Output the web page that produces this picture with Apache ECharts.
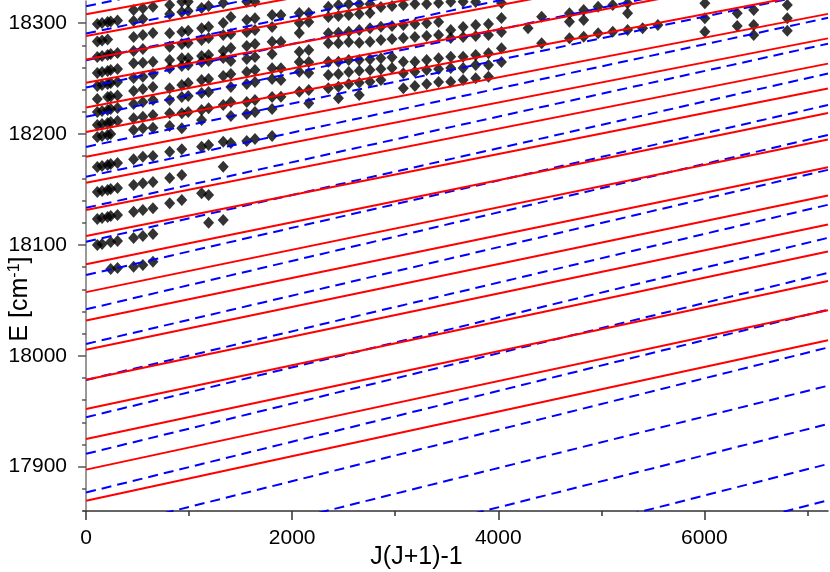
<!DOCTYPE html>
<html>
<head>
<meta charset="utf-8">
<script src="https://cdn.jsdelivr.net/npm/echarts@6/dist/echarts.min.js"></script>
<style>
html, body { margin: 0; padding: 0; background: #fff; }
#chart { width: 830px; height: 572px; }
</style>
</head>
<body>
<div id="chart"></div>
<script>
// calculated levels (red, solid): E at J(J+1)-1 = 0 and at 7200
const redStart = [17869.3, 17897.3, 17924.9, 17952.0, 17978.3, 18005.4, 18031.8, 18057.4, 18082.6, 18108.1,
                  18131.5, 18156.1, 18179.5, 18201.8, 18224.0, 18246.2, 18267.3, 18288.5, 18308.1];
const redEnd = [18014.1, 18041.1, 18067.5, 18094.0, 18118.4, 18144.5, 18170.1, 18195.0, 18218.9, 18241.1,
                18263.5, 18286.3, 18308.4, 18329.4, 18350.7, 18371.9, 18391.7, 18411.4, 18430.1];
// calculated levels (blue, dashed)
const blueStart = [17698.2, 17731.8, 17769.3, 17806.0, 17840.5, 17876.7, 17911.6, 17944.6, 17978.2, 18010.7,
                   18041.9, 18072.8, 18102.9, 18133.5, 18161.5, 18188.4, 18215.6, 18242.0, 18266.6, 18290.7, 18315.3];
const blueEnd = [17869.6, 17902.4, 17938.5, 17973.0, 18007.5, 18041.6, 18074.8, 18106.4, 18136.2, 18167.7,
                 18199.2, 18226.2, 18254.6, 18281.5, 18304.8, 18329.4, 18357.0, 18383.0, 18407.0, 18431.0, 18455.0];
const xEnd = 7200;

// observed levels: J of each column and the energies (cm-1) seen in it
const obsJ = [10, 12, 14, 15, 17, 21, 23, 25, 28, 30, 31, 33, 34, 36, 37, 39, 40, 42, 43,
              45, 46, 48, 49, 50, 51, 52, 53, 54, 55, 56, 57, 58, 59, 60, 61, 62, 63, 65, 66,
              68, 69, 70, 71, 72, 73, 74, 77, 79, 80, 82];
const obsE = [
  [18299.3, 18283.5, 18269.5, 18255.1, 18243.3, 18231.6, 18219.9, 18208.1, 18197.3, 18170.3, 18147.7, 18123.4, 18099.9],
  [18300.2, 18284.4, 18270.4, 18256.0, 18244.2, 18220.8, 18209.1, 18198.2, 18171.2, 18148.6, 18124.3, 18100.8],
  [18301.1, 18285.3, 18271.3, 18256.9, 18245.1, 18233.4, 18221.7, 18210.0, 18199.1, 18172.1, 18149.5, 18125.2],
  [18301.5, 18272.2, 18257.8, 18246.0, 18233.9, 18222.6, 18210.9, 18200.0, 18173.0, 18150.4, 18126.1, 18102.6, 18078.3],
  [18302.4, 18273.1, 18258.7, 18246.9, 18234.8, 18223.5, 18211.8, 18173.9, 18151.3, 18127.0, 18103.5, 18079.2],
  [18311.9, 18302.0, 18287.5, 18274.9, 18263.8, 18250.5, 18238.8, 18227.1, 18214.2, 18203.6, 18177.2, 18154.0, 18129.9, 18106.2, 18080.3],
  [18313.4, 18303.8, 18289.3, 18276.7, 18264.3, 18251.7, 18240.6, 18228.9, 18215.6, 18205.2, 18179.6, 18155.6, 18131.5, 18108.0, 18081.9],
  [18314.9, 18291.1, 18265.2, 18254.2, 18242.4, 18230.7, 18217.2, 18205.7, 18180.2, 18156.7, 18133.0, 18109.8, 18084.8],
  [18316.4, 18308.3, 18290.9, 18278.8, 18266.8, 18259.3, 18241.3, 18230.7, 18218.7, 18207.2, 18184.1, 18160.3, 18137.5],
  [18319.4, 18310.1, 18292.3, 18281.2, 18268.3, 18261.4, 18244.2, 18233.4, 18218.7, 18205.2, 18186.2, 18163.0, 18140.5],
  [18319.4, 18311.0, 18293.2, 18282.1, 18268.3, 18262.3, 18246.0, 18234.3, 18219.9],
  [18313.7, 18295.4, 18284.8, 18270.4, 18265.0, 18248.7, 18237.0, 18221.7, 18212.7, 18188.6, 18146.5],
  [18315.5, 18296.8, 18286.6, 18271.3, 18265.9, 18249.6, 18237.9, 18223.2, 18190.1, 18145.0, 18120.0],
  [18318.2, 18300.2, 18289.3, 18274.9, 18268.6, 18252.3, 18226.2, 18193.1, 18170.5, 18122.5],
  [18305.6, 18290.2, 18277.6, 18265.9, 18254.2, 18242.4, 18228.9, 18216.3, 18191.9],
  [18319.4, 18302.9, 18292.0, 18279.4, 18267.7, 18256.0, 18245.1, 18228.9, 18218.1, 18193.7],
  [18319.4, 18304.4, 18293.8, 18281.2, 18269.5, 18257.8, 18246.9, 18230.7, 18219.9, 18195.5],
  [18307.4, 18296.5, 18283.3, 18272.2, 18259.3, 18249.6, 18233.4, 18222.6, 18198.2],
  [18307.4, 18283.3, 18259.3, 18248.7, 18233.7],
  [18309.2, 18300.2, 18291.1, 18274.3, 18265.0, 18256.2, 18238.2],
  [18309.2, 18301.1, 18275.8, 18265.0, 18255.1, 18239.7, 18227.7],
  [18314.9, 18305.6, 18290.9, 18281.8, 18265.2, 18253.2, 18241.3],
  [18316.4, 18306.5, 18291.4, 18281.8, 18265.2, 18254.2, 18242.7, 18232.2],
  [18317.3, 18307.4, 18292.3, 18283.0, 18266.8, 18256.0, 18245.1],
  [18317.3, 18308.3, 18293.8, 18282.4, 18266.8, 18257.1, 18246.3, 18235.2],
  [18317.3, 18309.2, 18295.4, 18283.3, 18267.4, 18257.8, 18247.2],
  [18314.6, 18296.8, 18284.8, 18268.3, 18258.7, 18248.7],
  [18315.5, 18297.4, 18285.7, 18269.2, 18259.6],
  [18316.4, 18298.3, 18286.6, 18265.2, 18254.8, 18241.3],
  [18317.3, 18299.3, 18287.5, 18265.2, 18256.2, 18243.3],
  [18317.3, 18299.9, 18288.4, 18266.8, 18257.8, 18245.1],
  [18318.2, 18301.1, 18289.3, 18268.3, 18258.7, 18246.9],
  [18319.4, 18293.8, 18286.6, 18269.8, 18259.6, 18247.2],
  [18319.4, 18296.5, 18287.5, 18269.8, 18259.6, 18248.7],
  [18319.1, 18298.3, 18288.4, 18271.3, 18262.3, 18250.3],
  [18299.3, 18289.3, 18272.8, 18262.3, 18251.7],
  [18318.2, 18304.7, 18292.0, 18277.3, 18265.0],
  [18295.4],
  [18305.8, 18281.8],
  [18308.9, 18301.3, 18286.4],
  [18311.9, 18302.9, 18287.8],
  [18314.9, 18290.9],
  [18316.4, 18292.3],
  [18317.9, 18308.9, 18293.8],
  [18295.4],
  [18298.3],
  [18317.9, 18304.4, 18292.3],
  [18308.9, 18297.4],
  [18311.9, 18298.3, 18289.3],
  [18316.4, 18304.4, 18293.2]
];

const xTicks = [0, 1000, 2000, 3000, 4000, 5000, 6000, 7000];
const xLabels = [0, 2000, 4000, 6000];
const yTicks = [];
for (let v = 17860; v <= 18300; v += 20) yTicks.push(v);
const yLabels = [17900, 18000, 18100, 18200, 18300];

const obsPoints = [];
obsJ.forEach((j, i) => obsE[i].forEach(e => obsPoints.push([j * (j + 1) - 1, e])));

const series = [{
  type: 'scatter',
  data: obsPoints,
  symbol: 'diamond',
  symbolSize: [11, 12],
  itemStyle: { color: '#000' },
  z: 1,
  silent: true
}];
redStart.forEach((e0, i) => series.push({
  type: 'line',
  data: [[0, e0], [xEnd, redEnd[i]]],
  showSymbol: false,
  lineStyle: { color: '#ff0000', width: 2 },
  z: 3,
  silent: true
}));
blueStart.forEach((e0, i) => series.push({
  type: 'line',
  data: [[0, e0], [xEnd, blueEnd[i]]],
  showSymbol: false,
  lineStyle: { color: '#0000ff', width: 2, type: [10, 6] },
  z: 2,
  silent: true
}));

const fontFamily = 'Liberation Sans, Arial, sans-serif';
const labelFont = { fontFamily: fontFamily, fontSize: 21, color: '#000', formatter: v => String(v) };
const chart = echarts.init(document.getElementById('chart'), null, { renderer: 'canvas' });
chart.setOption({
  animation: false,
  backgroundColor: '#fff',
  grid: { left: 83, right: 2, top: 1, bottom: 61, containLabel: false, outerBoundsMode: 'none' },
  xAxis: [{
    type: 'value',
    min: -30,
    max: xEnd,
    name: 'J(J+1)-1',
    nameLocation: 'middle',
    nameGap: 34,
    nameMoveOverlap: false,
    nameTextStyle: { fontFamily: fontFamily, fontSize: 25, color: '#000', padding: [0, 78, 0, 0] },
    axisLine: { lineStyle: { color: '#333', width: 1.5 } },
    axisTick: { customValues: xTicks, length: 5, lineStyle: { color: '#333', width: 1.5 } },
    axisLabel: { customValues: xLabels, margin: 17, ...labelFont },
    splitLine: { show: false }
  }, {
    type: 'value',
    min: -30,
    max: xEnd,
    position: 'bottom',
    axisLine: { show: false },
    axisTick: { customValues: xLabels, length: 9, lineStyle: { color: '#333', width: 1.5 } },
    axisLabel: { show: false },
    splitLine: { show: false }
  }],
  yAxis: [{
    type: 'value',
    min: 17860,
    max: 18320,
    name: '{a|E [cm}{s|-1}{a|]}',
    nameLocation: 'middle',
    nameGap: 50,
    nameRotate: 90,
    nameMoveOverlap: false,
    nameTextStyle: {
      padding: [0, 86, 0, 0],
      rich: {
        a: { fontFamily: fontFamily, fontSize: 25, color: '#000' },
        s: { fontFamily: fontFamily, fontSize: 16, color: '#000', verticalAlign: 'top', padding: [0, 0, 10, 0] }
      }
    },
    axisLine: { lineStyle: { color: '#777', width: 1.5 } },
    axisTick: { customValues: yTicks, length: 4, lineStyle: { color: '#555', width: 1.5 } },
    axisLabel: { show: false },
    splitLine: { show: false }
  }, {
    type: 'value',
    min: 17860,
    max: 18320,
    position: 'left',
    axisLine: { show: false },
    axisTick: { customValues: yLabels, length: 8, lineStyle: { color: '#555', width: 1.5 } },
    axisLabel: { customValues: yLabels, margin: 16, ...labelFont },
    splitLine: { show: false }
  }],
  series: series
});
</script>
</body>
</html>
